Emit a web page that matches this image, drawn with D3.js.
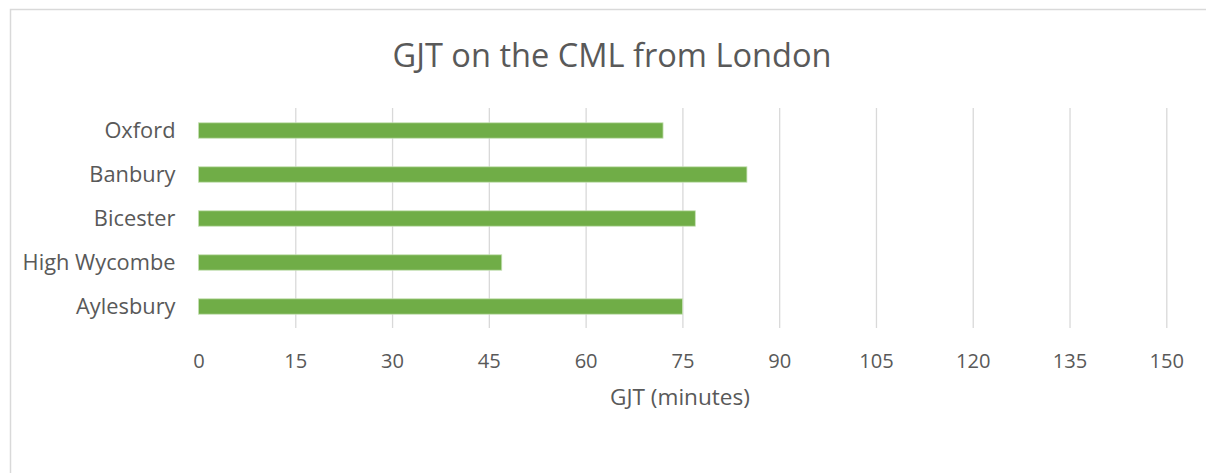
<!DOCTYPE html>
<html>
<head>
<meta charset="utf-8">
<script src="https://cdn.jsdelivr.net/npm/d3@7"></script>
<style>
  html, body { margin: 0; padding: 0; background: #fff; }
  svg { display: block; }
  text { font-family: "Open Sans", "Noto Sans", sans-serif; fill: #595959; }
</style>
</head>
<body>
<svg id="chart" width="1206" height="473"></svg>
<script>
const categories = ["Oxford", "Banbury", "Bicester", "High Wycombe", "Aylesbury"];
const values = [72, 85, 77, 47, 75];
const tickValues = [0, 15, 30, 45, 60, 75, 90, 105, 120, 135, 150];
const title = "GJT on the CML from London";
const xTitle = "GJT (minutes)";

const svg = d3.select("#chart");
const W = 1206, H = 473;
const margin = { left: 198.5, right: W - 1166.3, top: 108, bottom: H - 328 };

svg.append("rect")
  .attr("x", 10.5).attr("y", 9.5)
  .attr("width", 1400).attr("height", 700)
  .attr("fill", "#fff").attr("stroke", "#d9d9d9").attr("stroke-width", 1.5);

const x = d3.scaleLinear().domain([0, 150]).range([margin.left, W - margin.right]);
const y = d3.scaleBand().domain(categories).range([margin.top, H - margin.bottom]).paddingInner(0.65).paddingOuter(0.325);

// fit a font size so that a text's width matches a target width
function fitSize(sel, base, targetW) {
  const w = sel.node().getComputedTextLength();
  return base * targetW / w;
}

// gridlines
const grid = svg.append("g")
  .attr("transform", `translate(0,${H - margin.bottom})`)
  .call(d3.axisBottom(x).tickValues(tickValues.filter(v => v > 0)).tickSize(-(H - margin.bottom - margin.top)).tickFormat(""));
grid.select(".domain").remove();
grid.selectAll("line").attr("stroke", "#d9d9d9").attr("stroke-width", 1.3);

// bars
svg.append("g").selectAll("rect")
  .data(categories)
  .join("rect")
  .attr("x", x(0))
  .attr("y", d => y(d) + 0.5)
  .attr("width", (d, i) => x(values[i]) - x(0))
  .attr("height", y.bandwidth())
  .attr("fill", "#70ad47")
  .attr("stroke", "#c5e0b4")
  .attr("stroke-width", 0.8);

// x tick labels
const xa = svg.append("g")
  .attr("transform", `translate(0,${H - margin.bottom})`)
  .call(d3.axisBottom(x).tickValues(tickValues).tickSize(0));
xa.select(".domain").remove();
xa.selectAll("text")
  .attr("y", 39.7).attr("dy", 0)
  .style("font-size", "17px").style("fill", "#595959").style("font-family", '"Open Sans", sans-serif');
{
  const last = xa.selectAll("text").filter(d => d === 150);
  const fs = fitSize(last, 17, 34.5);
  xa.selectAll("text").style("font-size", fs + "px");
}

// y labels
const ya = svg.append("g")
  .attr("transform", `translate(${x(0) - 21},1.5)`)
  .call(d3.axisLeft(y).tickSize(0).tickPadding(2));
ya.select(".domain").remove();
ya.selectAll("text").style("font-size", "17px").style("fill", "#595959").style("font-family", '"Open Sans", sans-serif');
{
  const hw = ya.selectAll("text").filter(d => d === "High Wycombe");
  const fs = fitSize(hw, 17, 153);
  ya.selectAll("text").style("font-size", fs + "px");
}

// title
const t = svg.append("text")
  .attr("x", 612).attr("y", 67)
  .attr("text-anchor", "middle")
  .style("font-size", "30px")
  .text(title);
t.style("font-size", fitSize(t, 30, 439) + "px");

// x axis title
const xt = svg.append("text")
  .attr("x", 680).attr("y", 404.5)
  .attr("text-anchor", "middle")
  .style("font-size", "18px")
  .text(xTitle);
xt.style("font-size", fitSize(xt, 18, 140) + "px");
</script>
</body>
</html>
